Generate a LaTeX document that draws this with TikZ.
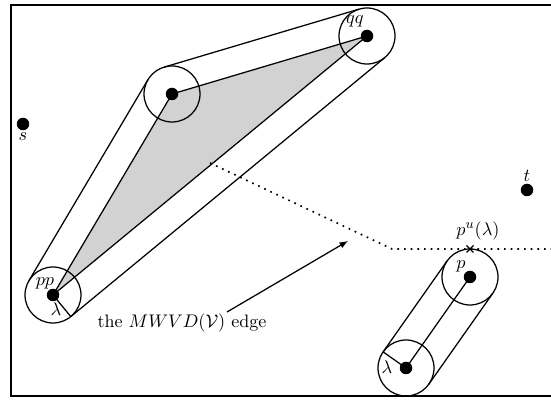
\documentclass[tikz,border=0pt]{standalone}
\usetikzlibrary{calc,arrows}
\tikzset{
	site/.style={circle, fill=black, inner sep=0pt, minimum size=7.5pt},
	disc/.style={draw, line width=0.75pt},
	hull/.style={line width=0.75pt}
}
\begin{document}
\begin{tikzpicture}[x=0.6pt, y=-0.6pt, font=\fontsize{10.8}{13}\selectfont]
	\useasboundingbox (0,0) rectangle (551,401);
	\def\rad{16.8pt}
	%frame
	\draw[line width=1.2pt] (551,5) -- (11,5) -- (11,396) -- (551,396);
	%points
	\coordinate (pp) at (53,295);
	\coordinate (up) at (172,94);
	\coordinate (qq) at (367,36);
	\coordinate (lp) at (406,368);
	\coordinate (p) at (470,277);
	%triangle
	\filldraw[fill=gray!35, hull] (pp) -- (up) -- (qq) -- cycle;
	%discs
	\foreach \c in {pp,up,qq,lp,p}
	\draw[disc] (\c) circle[radius=\rad];
	%tangents
	\draw[hull] ($(pp)!\rad!90:(up)$) -- ($(up)!\rad!-90:(pp)$);
	\draw[hull] ($(up)!\rad!90:(qq)$) -- ($(qq)!\rad!-90:(up)$);
	\draw[hull] ($(qq)!\rad!90:(pp)$) -- ($(pp)!\rad!-90:(qq)$);
	\draw[hull] ($(lp)!\rad!90:(p)$) -- ($(p)!\rad!-90:(lp)$);
	\draw[hull] ($(lp)!\rad!-90:(p)$) -- ($(p)!\rad!90:(lp)$);
	\draw[hull] (lp) -- (p);
	%radii
	\draw[hull] (pp) -- ($(pp)!\rad!-90:(qq)$);
	\draw[hull] (lp) -- ($(lp)!\rad!90:(p)$);
	\node at (56,309) {$\lambda$};
	\node at (387,367) {$\lambda$};
	%sites
	\foreach \c in {pp,up,qq,lp,p}
	\node[site] (dot\c) at (\c) {};
	\node[site] (s) at (23,124) {};
	\node[site] (t) at (527,190) {};
	\node[anchor=north, inner sep=1pt] at (s.south) {$s$};
	\node[anchor=south, inner sep=1pt] at (t.north) {$t$};
	\node at (45,283) {$pp$};
	\node at (355,21) {$qq$};
	\node at (461,266) {$p$};
	%edge
	\coordinate (e1) at (210,163);
	\coordinate (e2) at (392,249);
	\coordinate (e3) at (551,249);
	\draw[dash pattern=on 1pt off 3pt, line width=1pt] (e1) -- (e2) -- (e3);
	\coordinate (pu) at ($(p)+(0,-28)$);
	\draw[line width=0.75pt] ($(pu)+(-3.5,-3.5)$) -- ($(pu)+(3.5,3.5)$);
	\draw[line width=0.75pt] ($(pu)+(-3.5,3.5)$) -- ($(pu)+(3.5,-3.5)$);
	\node[above=2pt] (pulabel) at ($(pu)+(8,0)$) {$p^u(\lambda)$};
	%labels
	\node (mwvd) at (182,323) {the $MWVD(\mathcal{V})$ edge};
	\coordinate (arrtip) at (348,241);
	\coordinate (arrbase) at (227,312);
	\draw[-latex, line width=0.75pt] (arrbase) -- (arrtip);
\end{tikzpicture}
\end{document}
